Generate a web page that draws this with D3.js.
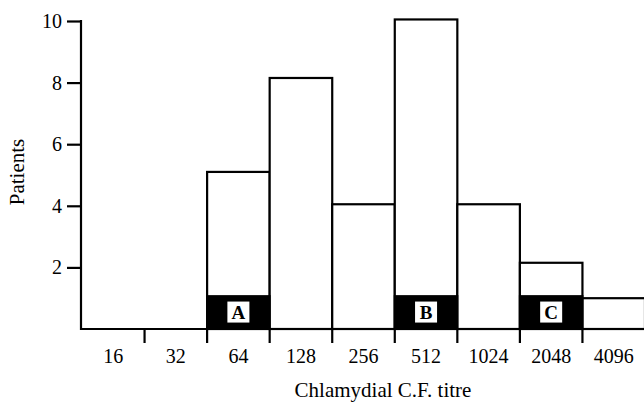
<!DOCTYPE html>
<html><head><meta charset="utf-8">
<script src="https://cdn.jsdelivr.net/npm/d3@7"></script>
<style>body{margin:0;background:#fff}svg{display:block}</style>
</head><body>
<script>
const categories = ["16","32","64","128","256","512","1024","2048","4096"];
const patients   = [0, 0, 5.1, 8.15, 4.05, 10.05, 4.05, 2.15, 1.0];
const subgroup   = [0, 0, 1.1, 0, 0, 1.1, 0, 1.1, 0];
const subgroupLabels = ["", "", "A", "", "", "B", "", "C", ""];
const yTicks = [2, 4, 6, 8, 10];

const W = 644, H = 402;
const svg = d3.select("body").append("svg").attr("width", W).attr("height", H);
const x = d3.scaleBand().domain(categories).range([82, 645]).padding(0);
const y = d3.scaleLinear().domain([0, 10]).range([329, 21]);
const font = "'Liberation Serif','DejaVu Serif',serif";

const data = categories.map((c, i) => ({c, v: patients[i], s: subgroup[i], l: subgroupLabels[i]}));

// bars
svg.append("g").selectAll("rect").data(data.filter(d => d.v > 0)).join("rect")
  .attr("x", d => x(d.c)).attr("width", x.bandwidth())
  .attr("y", d => y(d.v)).attr("height", d => y(0) - y(d.v))
  .attr("fill", "#fff").attr("stroke", "#000").attr("stroke-width", 2.2);

// black subgroup portions
const sg = data.filter(d => d.s > 0);
svg.append("g").selectAll("rect").data(sg).join("rect")
  .attr("x", d => x(d.c) - 1).attr("width", x.bandwidth() + 2)
  .attr("y", d => y(d.s)).attr("height", d => y(0) - y(d.s))
  .attr("fill", "#000");
svg.append("g").selectAll("rect").data(sg).join("rect")
  .attr("x", d => x(d.c) + x.bandwidth() / 2 - 11).attr("width", 22)
  .attr("y", d => (y(d.s) + y(0)) / 2 - 10.5).attr("height", 21)
  .attr("fill", "#fff");
svg.append("g").selectAll("text").data(sg).join("text")
  .attr("x", d => x(d.c) + x.bandwidth() / 2)
  .attr("y", d => (y(d.s) + y(0)) / 2 + 7)
  .attr("text-anchor", "middle").attr("font-family", font)
  .attr("font-weight", "bold").attr("font-size", 19).text(d => d.l);

// y axis
const ya = svg.append("g").attr("transform", "translate(81,0)")
  .call(d3.axisLeft(y).tickValues(yTicks).tickSize(14).tickPadding(5).tickFormat(d3.format("d")));
ya.select(".domain").remove();
ya.selectAll(".tick line").attr("stroke", "#000").attr("stroke-width", 2.2);
ya.selectAll(".tick text").attr("font-family", font).attr("font-size", 20).attr("fill", "#000");
svg.append("line").attr("x1", 81).attr("x2", 81).attr("y1", y(10) - 1).attr("y2", y(0) + 1)
  .attr("stroke", "#000").attr("stroke-width", 2.2);

// x axis
const xa = svg.append("g").attr("transform", `translate(0,${y(0)})`)
  .call(d3.axisBottom(x).tickSize(0).tickPadding(20));
xa.select(".domain").remove();
xa.selectAll(".tick text").attr("font-family", font).attr("font-size", 20).attr("fill", "#000");
svg.append("line").attr("x1", 80).attr("x2", W).attr("y1", y(0)).attr("y2", y(0))
  .attr("stroke", "#000").attr("stroke-width", 2.2);
svg.append("g").selectAll("line").data(categories.slice(1)).join("line")
  .attr("x1", d => x(d)).attr("x2", d => x(d)).attr("y1", y(0)).attr("y2", y(0) + 14)
  .attr("stroke", "#000").attr("stroke-width", 2.2);

// titles
svg.append("text").attr("transform", "translate(24,172) rotate(-90)")
  .attr("text-anchor", "middle").attr("font-family", font).attr("font-size", 21).text("Patients");
svg.append("text").attr("x", 383).attr("y", 397)
  .attr("text-anchor", "middle").attr("font-family", font).attr("font-size", 21).text("Chlamydial C.F. titre");
</script>
</body></html>
